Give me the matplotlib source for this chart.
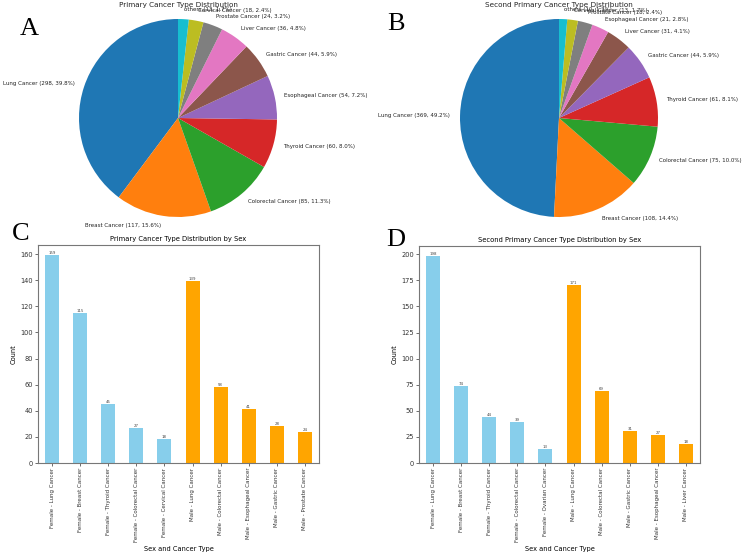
import matplotlib
matplotlib.use("Agg")
import matplotlib.pyplot as plt

W, H = 746, 554

# ---------------- data ----------------
pie1_labels = ["Lung Cancer", "Breast Cancer", "Colorectal Cancer", "Thyroid Cancer",
               "Esophageal Cancer", "Gastric Cancer", "Liver Cancer", "Prostate Cancer",
               "Cervical Cancer", "others"]
pie1_values = [298, 117, 85, 60, 54, 44, 36, 24, 18, 13]

pie2_labels = ["Lung Cancer", "Breast Cancer", "Colorectal Cancer", "Thyroid Cancer",
               "Gastric Cancer", "Liver Cancer", "Esophageal Cancer", "Prostate Cancer",
               "Cervical Cancer", "others"]
pie2_values = [369, 108, 75, 61, 44, 31, 21, 18, 13, 10]

bar1_labels = ["Female - Lung Cancer", "Female - Breast Cancer", "Female - Thyroid Cancer",
               "Female - Colorectal Cancer", "Female - Cervical Cancer",
               "Male - Lung Cancer", "Male - Colorectal Cancer", "Male - Esophageal Cancer",
               "Male - Gastric Cancer", "Male - Prostate Cancer"]
bar1_values = [159, 115, 45, 27, 18, 139, 58, 41, 28, 24]

bar2_labels = ["Female - Lung Cancer", "Female - Breast Cancer", "Female - Thyroid Cancer",
               "Female - Colorectal Cancer", "Female - Ovarian Cancer",
               "Male - Lung Cancer", "Male - Colorectal Cancer", "Male - Gastric Cancer",
               "Male - Esophageal Cancer", "Male - Liver Cancer"]
bar2_values = [198, 74, 44, 39, 13, 171, 69, 31, 27, 18]

bar_colors = ["skyblue"] * 5 + ["orange"] * 5

fig = plt.figure(figsize=(W / 100, H / 100), dpi=100)


def px_axes(x0, y0, x1, y1):
    return fig.add_axes([x0 / W, 1 - y1 / H, (x1 - x0) / W, (y1 - y0) / H])


def pie_panel(x0, x1, y0, y1, cx, cy, r, labels, values, title):
    ax = px_axes(x0, y0, x1, y1)
    total = sum(values)
    lbls = [f"{l} ({v}, {v / total * 100:.1f}%)" for l, v in zip(labels, values)]
    ax.pie(values, labels=lbls, startangle=90, textprops={"fontsize": 3.95, "color": "#222222"})
    ax.set_aspect("auto")
    ax.set_xlim(-(cx - x0) / r, (x1 - cx) / r)
    ax.set_ylim(-(y1 - cy) / r, (cy - y0) / r)
    ax.axis("off")
    fig.text(cx / W, 1 - 4.5 / H, title, ha="center", va="center", fontsize=5.2, color="#222222")
    return ax


pie_panel(0, 373, 14, 222, 178, 118, 99, pie1_labels, pie1_values,
          "Primary Cancer Type Distribution")
pie_panel(373, 746, 14, 222, 559, 118, 99, pie2_labels, pie2_values,
          "Second Primary Cancer Type Distribution")


def bar_panel(x0, y0, x1, y1, labels, values, title):
    ax = px_axes(x0, y0, x1, y1)
    pos = list(range(len(values)))
    ax.bar(pos, values, width=0.5, color=bar_colors)
    for p, v in zip(pos, values):
        ax.text(p, v, str(v), ha="center", va="bottom", fontsize=2.8, color="#444444")
    ax.set_xlim(-0.5, len(values) - 0.5)
    ax.set_ylim(0, max(values) * 1.05)
    ax.set_xticks(pos)
    ax.set_xticklabels(labels, rotation=90, fontsize=4.0)
    ax.tick_params(axis="both", length=2, width=0.5, pad=1.5, colors="#333333")
    ax.tick_params(axis="y", labelsize=4.8)
    ax.set_ylabel("Count", fontsize=4.8, labelpad=3)
    ax.set_xlabel("Sex and Cancer Type", fontsize=4.8, labelpad=3)
    ax.set_title(title, fontsize=4.9, pad=3)
    for s in ax.spines.values():
        s.set_linewidth(0.8)
        s.set_color("#777777")
    return ax


bar_panel(38, 245, 319, 463, bar1_labels, bar1_values, "Primary Cancer Type Distribution by Sex")
bar_panel(419, 246, 700, 463, bar2_labels, bar2_values, "Second Primary Cancer Type Distribution by Sex")

for letter, x, y in [("A", 29, 29), ("B", 396, 24), ("C", 21, 234), ("D", 396, 240)]:
    fig.text(x / W, 1 - y / H, letter, ha="center", va="center", fontsize=19,
             family="Liberation Serif", color="black")

fig.savefig("out.png", dpi=100)
